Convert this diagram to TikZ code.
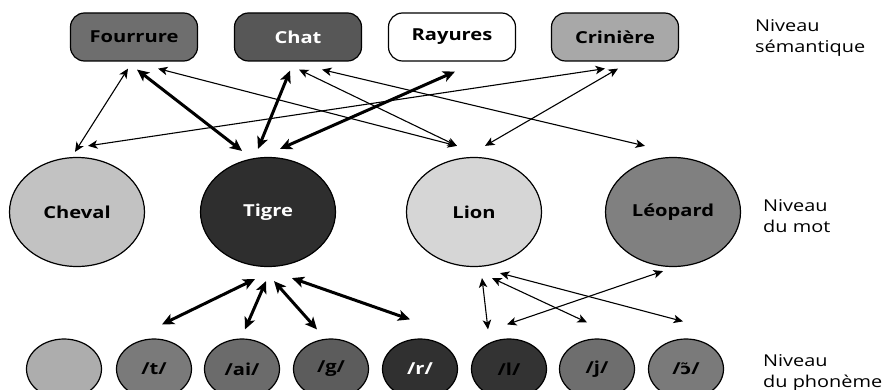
\documentclass[tikz,border=0pt]{standalone}
\usepackage{fontspec}
\usetikzlibrary{arrows.meta,shapes.geometric}
\newfontfamily\lblfont[FakeStretch=1.22]{Open Sans}
\newfontfamily\ipafont[FakeStretch=1.22]{DejaVu Sans}

\definecolor{cFour}{gray}{0.43}
\definecolor{cChat}{gray}{0.34}
\definecolor{cCrin}{gray}{0.66}
\definecolor{cCheval}{gray}{0.76}
\definecolor{cTigre}{gray}{0.18}
\definecolor{cLion}{gray}{0.84}
\definecolor{cLeo}{gray}{0.50}
\definecolor{pZero}{gray}{0.68}
\definecolor{pT}{gray}{0.48}
\definecolor{pAi}{gray}{0.42}
\definecolor{pG}{gray}{0.36}
\definecolor{pR}{gray}{0.19}
\definecolor{pL}{gray}{0.20}
\definecolor{pJ}{gray}{0.43}
\definecolor{pOn}{gray}{0.48}

\tikzset{
  boldlabel/.style={font=\lblfont\bfseries\fontsize{16.5}{19}\selectfont},
  sembox/.style={draw=black, line width=1.2pt, rounded corners=14pt,
    minimum width=127pt, minimum height=48pt, inner sep=0pt, boldlabel},
  wordnode/.style={ellipse, draw=black, line width=1.2pt,
    minimum width=135pt, minimum height=109pt, inner sep=0pt, boldlabel},
  phonnode/.style={ellipse, draw=black, line width=1.2pt,
    minimum width=75pt, minimum height=60pt, inner sep=0pt, boldlabel},
  levellabel/.style={anchor=west, align=left, inner sep=0pt,
    font=\lblfont\fontsize{16.3}{21.5}\selectfont},
  thinlink/.style={line width=1.1pt,
    {Stealth[length=9.5pt,width=8.5pt,inset=2.5pt]}-{Stealth[length=9.5pt,width=8.5pt,inset=2.5pt]}},
  thicklink/.style={line width=3pt,
    {Stealth[length=12pt,width=11pt,inset=3pt]}-{Stealth[length=12pt,width=11pt,inset=3pt]}},
}

\begin{document}
\begin{tikzpicture}[x=1pt,y=-1pt]
\useasboundingbox (0,0) rectangle (885,390);

% semantic level
\node[sembox, fill=cFour] (fourrure) at (134,37) {Fourrure};
\node[sembox, fill=cChat, text=white] (chat) at (298,37) {Chat};
\node[sembox, fill=white] (rayures) at (452,37) {Rayures};
\node[sembox, fill=cCrin] (criniere) at (615,37) {Crinière};

% word level
\node[wordnode, fill=cCheval] (cheval) at (77,212) {Cheval};
\node[wordnode, fill=cTigre, text=white] (tigre) at (268,212) {Tigre};
\node[wordnode, fill=cLion] (lion) at (474,212) {Lion};
\node[wordnode, fill=cLeo] (leopard) at (673,212) {Léopard};

% phoneme level
\node[phonnode, fill=pZero] (p0) at (64,369) {};
\node[phonnode, fill=pT] (pt) at (154,369) {/t/};
\node[phonnode, fill=pAi] (pai) at (242,369) {/ai/};
\node[phonnode, fill=pG] (pg) at (331,369) {/g/};
\node[phonnode, fill=pR, text=white] (pr) at (420,369) {/r/};
\node[phonnode, fill=pL] (pl) at (509,369) {/l/};
\node[phonnode, fill=pJ] (pj) at (597,369) {/j/};
\node[phonnode, fill=pOn] (pon) at (686,369) {/{\ipafont\bfseries\fontsize{15}{19}\selectfont ɔ̃}/};

% level captions
\node[levellabel] (capsem) at (755,38) {Niveau\\sémantique};
\node[levellabel] (capmot) at (763,216) {Niveau\\du mot};
\node[levellabel] (capphon) at (763,373) {Niveau\\du phonème};

% semantic <-> word links
\draw[thinlink] ([shift={(-6,7)}]fourrure.south) -- ([shift={(-2,-5)}]cheval.north);
\draw[thicklink] ([shift={(3,8)}]fourrure.south) -- ([shift={(-26,-6)}]tigre.north);
\draw[thinlink] ([shift={(24,7)}]fourrure.south) -- ([shift={(-17,-11)}]lion.north);
\draw[thinlink] ([shift={(-10,7)}]criniere.south) -- ([shift={(11,-11)}]cheval.north);
\draw[thicklink] ([shift={(-8,9)}]chat.south) -- ([shift={(-10,-8)}]tigre.north);
\draw[thicklink] ([shift={(3,10)}]rayures.south) -- ([shift={(12,-8)}]tigre.north);
\draw[thinlink] ([shift={(1,8)}]chat.south) -- ([shift={(-17,-11)}]lion.north);
\draw[thinlink] ([shift={(24,8)}]chat.south) -- ([shift={(-28,-11)}]leopard.north);
\draw[thinlink] ([shift={(3,7)}]criniere.south) -- ([shift={(11,-11)}]lion.north);

% word <-> phoneme links
\draw[thicklink] ([shift={(-13,12)}]tigre.south) -- ([shift={(8,-14)}]pt.north);
\draw[thicklink] ([shift={(-2,14)}]tigre.south) -- ([shift={(3,-9)}]pai.north);
\draw[thicklink] ([shift={(6,14)}]tigre.south) -- ([shift={(-14,-9)}]pg.north);
\draw[thicklink] ([shift={(24,11)}]tigre.south) -- ([shift={(-10,-19)}]pr.north);
\draw[thinlink] ([shift={(8,11)}]lion.south) -- ([shift={(-21,-9)}]pl.north);
\draw[thinlink] ([shift={(18,11)}]lion.south) -- ([shift={(-10,-16)}]pj.north);
\draw[thinlink] ([shift={(26,6)}]lion.south) -- ([shift={(-3,-17)}]pon.north);
\draw[thinlink] ([shift={(-10,4)}]leopard.south) -- ([shift={(-2,-14)}]pl.north);
\end{tikzpicture}
\end{document}
